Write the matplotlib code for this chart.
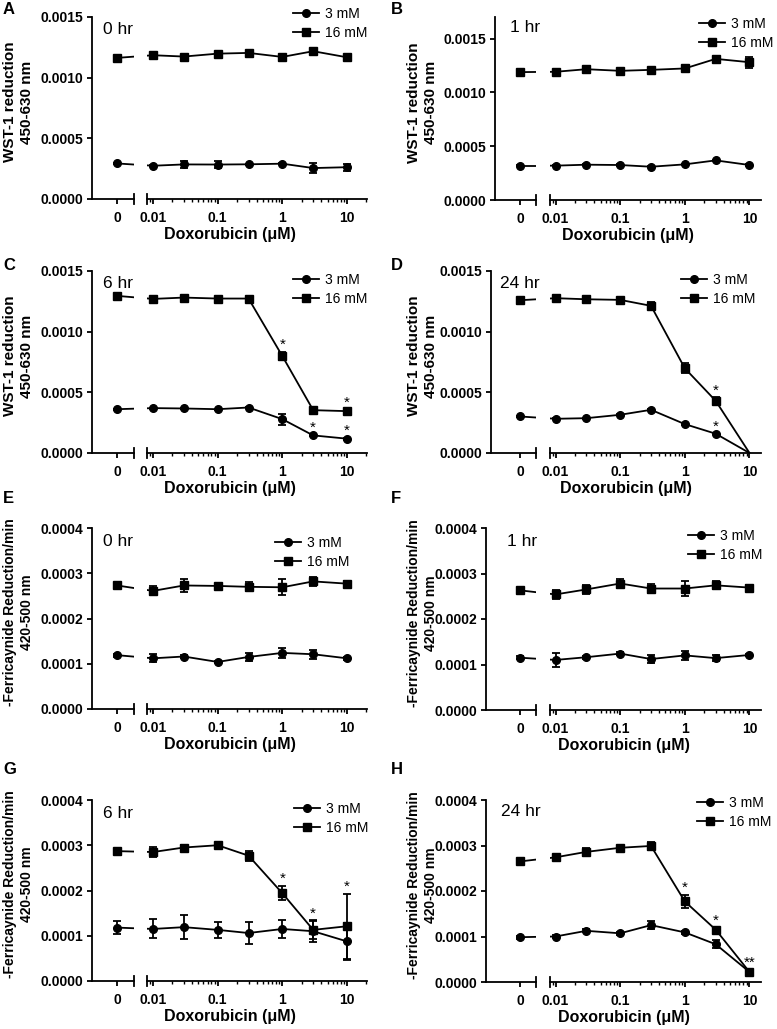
import matplotlib
matplotlib.use("Agg")
import matplotlib.pyplot as plt
from matplotlib.lines import Line2D
from matplotlib.ticker import LogLocator, NullFormatter

plt.rcParams['font.family'] = ['Liberation Sans', 'DejaVu Sans']

# doxorubicin doses (uM), 0 is drawn on its own little axis
doses = [0, 0.01, 0.03, 0.1, 0.3, 1, 3, 10]
dose_ticks = [0.01, 0.1, 1, 10]
dose_labels = ['0.01', '0.1', '1', '10']
legend_labels = ['3 mM', '16 mM']

# A - WST-1, 0 hr
wst_0h_3mM = [0.000293, 0.000274, 0.000285, 0.000284, 0.000286, 0.000291, 0.000255, 0.000262]
wst_0h_3mM_err = [0.000005, 0.000005, 0.00003, 0.00003, 0.000005, 0.000005, 0.00004, 0.00003]
wst_0h_16mM = [0.001163, 0.001185, 0.001174, 0.001198, 0.001204, 0.001171, 0.001218, 0.001168]
wst_0h_16mM_err = [0.00001, 0.00001, 0.00001, 0.00001, 0.00001, 0.00001, 0.00001, 0.00001]

# B - WST-1, 1 hr
wst_1h_3mM = [0.000319, 0.000319, 0.000328, 0.000325, 0.000309, 0.000331, 0.000368, 0.000325]
wst_1h_3mM_err = [0.000005, 0.000005, 0.000005, 0.000005, 0.000005, 0.000005, 0.000005, 0.000005]
wst_1h_16mM = [0.001188, 0.001191, 0.001215, 0.001200, 0.001209, 0.001222, 0.001311, 0.001280]
wst_1h_16mM_err = [0.00001, 0.00001, 0.00001, 0.00001, 0.00001, 0.00001, 0.00001, 0.00005]

# C - WST-1, 6 hr
wst_6h_3mM = [0.000361, 0.000370, 0.000367, 0.000361, 0.000375, 0.000279, 0.000145, 0.000118]
wst_6h_3mM_err = [0.000005, 0.000005, 0.000005, 0.000005, 0.000005, 0.000045, 0.000008, 0.000008]
wst_6h_16mM = [0.001295, 0.001270, 0.001281, 0.001273, 0.001273, 0.000799, 0.000353, 0.000345]
wst_6h_16mM_err = [0.00001, 0.00001, 0.00001, 0.00001, 0.00001, 0.000033, 0.00002, 0.00001]
wst_6h_3mM_stars = {3: '*', 10: '*'}
wst_6h_16mM_stars = {1: '*', 10: '*'}

# D - WST-1, 24 hr
wst_24h_3mM = [0.000301, 0.000282, 0.000287, 0.000315, 0.000356, 0.000238, 0.000159, 0.0]
wst_24h_3mM_err = [0.000005, 0.000005, 0.000005, 0.000005, 0.000005, 0.000005, 0.000005, 0.0]
wst_24h_16mM = [0.001259, 0.001276, 0.001267, 0.001262, 0.001213, 0.000698, 0.000430, 0.0]
wst_24h_16mM_err = [0.00001, 0.00001, 0.00002, 0.00001, 0.00003, 0.00004, 0.00003, 0.0]
wst_24h_3mM_stars = {3: '*'}
wst_24h_16mM_stars = {3: '*'}

# E - ferricyanide, 0 hr
fer_0h_3mM = [0.000119, 0.000112, 0.000116, 0.000104, 0.000115, 0.000124, 0.000121, 0.000112]
fer_0h_3mM_err = [0.000003, 0.000009, 0.000003, 0.000003, 0.000009, 0.000011, 0.00001, 0.000003]
fer_0h_16mM = [0.000273, 0.000261, 0.000273, 0.000272, 0.000270, 0.000269, 0.000282, 0.000277]
fer_0h_16mM_err = [0.000004, 0.00001, 0.000015, 0.000004, 0.00001, 0.000018, 0.00001, 0.000005]

# F - ferricyanide, 1 hr
fer_1h_3mM = [0.000115, 0.000110, 0.000116, 0.000124, 0.000112, 0.000120, 0.000114, 0.000121]
fer_1h_3mM_err = [0.000003, 0.000016, 0.000003, 0.000003, 0.000009, 0.00001, 0.000007, 0.000003]
fer_1h_16mM = [0.000263, 0.000254, 0.000265, 0.000278, 0.000267, 0.000267, 0.000274, 0.000269]
fer_1h_16mM_err = [0.000006, 0.000009, 0.000009, 0.000009, 0.00001, 0.000016, 0.000009, 0.000005]

# G - ferricyanide, 6 hr
fer_6h_3mM = [0.000118, 0.000115, 0.000119, 0.000113, 0.000106, 0.000115, 0.000110, 0.0000875]
fer_6h_3mM_err = [0.000015, 0.000021, 0.000026, 0.000018, 0.000024, 0.00002, 0.000024, 0.00004]
fer_6h_16mM = [0.000287, 0.000285, 0.000295, 0.000300, 0.000277, 0.000194, 0.000113, 0.000121]
fer_6h_16mM_err = [0.000004, 0.000011, 0.000005, 0.000004, 0.000011, 0.000016, 0.00002, 0.000072]
fer_6h_16mM_stars = {1: '*', 3: '*', 10: '*'}

# H - ferricyanide, 24 hr
fer_24h_3mM = [0.0000985, 0.0001, 0.0001125, 0.000107, 0.000125, 0.000109, 0.000083, 0.000022]
fer_24h_3mM_err = [0.000003, 0.000003, 0.000003, 0.000003, 0.000009, 0.000003, 0.000009, 0.000003]
fer_24h_16mM = [0.000265, 0.000274, 0.000286, 0.000295, 0.000299, 0.000177, 0.000115, 0.000022]
fer_24h_16mM_err = [0.000004, 0.000004, 0.000008, 0.000004, 0.000009, 0.000015, 0.000005, 0.000005]
fer_24h_16mM_stars = {1: '*', 3: '*', 10: '**'}

wst_ticks = [0, 0.0005, 0.0010, 0.0015]
fer_ticks = [0, 0.0001, 0.0002, 0.0003, 0.0004]
wst_ylabel = 'WST-1 reduction\n450-630 nm'
fer_ylabel = '-Ferricaynide Reduction/min\n420-500 nm'

W, H = 777, 1029
fig = plt.figure(figsize=(W / 100, H / 100), dpi=100)
LW = 1.3


def fbox(l, t, r, b):
    return [l / W, 1 - b / H, (r - l) / W, (b - t) / H]


def panel(letter, hours, col, l0, top, bot, ylim, yticks, ylabel, ylfs,
          y3, e3, y16, e16, stars3, stars16, leg_xy, hr_xy, letter_y):
    if col == 0:
        brk, logl, logr, zero, p001, p10 = 134, 147, 367, 117, 153, 347
        letter_x, ylab_x = 3, 34
    else:
        brk, logl, logr, zero, p001, p10 = 536, 550, 761, 520, 555.5, 749.5
        letter_x, ylab_x = 391, 438
    ax0 = fig.add_axes(fbox(l0, top, brk, bot))
    ax1 = fig.add_axes(fbox(logl, top, logr, bot))
    ax0.set_xlim(l0 - zero, brk - zero)
    dec = (p10 - p001) / 3.0
    ax1.set_xscale('log')
    ax1.set_xlim(10 ** (-2 - (p001 - logl) / dec), 10 ** (1 + (logr - p10) / dec))
    for ax in (ax0, ax1):
        ax.set_ylim(ylim)
        ax.spines['top'].set_visible(False)
        ax.spines['right'].set_visible(False)
        for s in ax.spines.values():
            s.set_linewidth(LW)
        ax.tick_params(which='major', direction='out', length=3.6, width=LW,
                       labelsize=10, pad=3)
        ax.tick_params(axis='x', which='major', pad=5)
        ax.tick_params(which='minor', direction='out', length=2.2, width=1.0)
        ax.set_facecolor('none')
    ax1.spines['left'].set_visible(False)
    ax1.tick_params(axis='y', which='both', left=False, labelleft=False)
    ax0.set_xticks([0])
    ax0.set_xticklabels(['0'])
    ax1.set_xticks(dose_ticks)
    ax1.set_xticklabels(dose_labels)
    ax1.xaxis.set_minor_locator(LogLocator(base=10, subs=range(2, 10)))
    ax1.xaxis.set_minor_formatter(NullFormatter())
    ax0.set_yticks(yticks)
    ax0.set_yticklabels(['%.4f' % v for v in yticks])
    for lab in ax0.get_xticklabels() + ax0.get_yticklabels() + ax1.get_xticklabels():
        lab.set_fontweight('bold')

    # axis break marks
    ax0.plot([1, 1], [-0.025, 0.025], transform=ax0.transAxes, color='k', lw=LW, clip_on=False)
    ax1.plot([0, 0], [-0.025, 0.025], transform=ax1.transAxes, color='k', lw=LW, clip_on=False)

    for vals, err, mk, ms, stars in [(y3, e3, 'o', 5.5, stars3), (y16, e16, 's', 6, stars16)]:
        # line from the 0 point to the 0.01 point, split over both axes
        p0 = ax0.transData.transform((0, vals[0]))
        p1 = ax1.transData.transform((doses[1], vals[1]))
        xa = ax0.transData.inverted().transform(p1)[0]
        xb = ax1.transData.inverted().transform(p0)[0]
        ax0.plot([0, xa], [vals[0], vals[1]], color='k', lw=LW, zorder=2)
        ax1.plot([xb] + doses[1:], vals, color='k', lw=LW, zorder=2)
        ax0.plot([0], [vals[0]], ls='none', marker=mk, ms=ms, color='k', zorder=4, clip_on=False)
        mx = [d for d, v in zip(doses[1:], vals[1:]) if v > 0]
        my = [v for v in vals[1:] if v > 0]
        ax1.plot(mx, my, ls='none', marker=mk, ms=ms, color='k', zorder=4, clip_on=False)
        if err[0] > 0:
            ax0.errorbar([0], [vals[0]], yerr=[err[0]], fmt='none', ecolor='k',
                         elinewidth=LW, capsize=2.8, capthick=LW, zorder=3)
        ex = [d for d, e in zip(doses[1:], err[1:]) if e > 0]
        ey = [v for v, e in zip(vals[1:], err[1:]) if e > 0]
        ee = [e for e in err[1:] if e > 0]
        ax1.errorbar(ex, ey, yerr=ee, fmt='none', ecolor='k', elinewidth=LW,
                     capsize=2.8, capthick=LW, zorder=3)
        for d, s in stars.items():
            i = doses.index(d)
            ax1.annotate(s, (d, vals[i] + err[i]), xytext=(0, 2), textcoords='offset points',
                         ha='center', va='baseline', fontsize=11)

    handles = [Line2D([], [], color='k', lw=LW, marker='o', ms=5.5),
               Line2D([], [], color='k', lw=LW, marker='s', ms=6)]
    ax1.legend(handles, legend_labels, loc='upper left',
               bbox_to_anchor=(leg_xy[0] / W, 1 - (leg_xy[1] - 9) / H),
               bbox_transform=fig.transFigure, frameon=False, borderpad=0,
               borderaxespad=0, handlelength=1.9, handletextpad=0.4,
               labelspacing=0.35, fontsize=10)

    fig.text(hr_xy[0] / W, 1 - hr_xy[1] / H, hours, fontsize=12.5, ha='left', va='center')
    fig.text(letter_x / W, 1 - letter_y / H, letter, fontsize=12, fontweight='bold',
             ha='left', va='center')

    ax0.set_ylabel(ylabel, fontsize=ylfs, fontweight='bold', linespacing=1.25)
    ax0.yaxis.set_label_coords(ylab_x / W, 1 - ((top + bot) / 2 - 6) / H,
                               transform=fig.transFigure)
    ax1.set_xlabel('Doxorubicin (\u03bcM)', fontsize=11.5, fontweight='bold')
    ax1.xaxis.set_label_coords((l0 + logr) / 2 / W, 1 - (bot + 28) / H,
                               transform=fig.transFigure)


panel('A', '0 hr', 0, 92, 17, 199, (0, 0.0015), wst_ticks, wst_ylabel, 11,
      wst_0h_3mM, wst_0h_3mM_err, wst_0h_16mM, wst_0h_16mM_err, {}, {},
      (293, 16), (103, 30), 10)
panel('B', '1 hr', 1, 495, 17, 200, (0, 0.0017), wst_ticks, wst_ylabel, 11,
      wst_1h_3mM, wst_1h_3mM_err, wst_1h_16mM, wst_1h_16mM_err, {}, {},
      (699, 26), (510, 28), 10)
panel('C', '6 hr', 0, 92, 271, 453, (0, 0.0015), wst_ticks, wst_ylabel, 11,
      wst_6h_3mM, wst_6h_3mM_err, wst_6h_16mM, wst_6h_16mM_err,
      wst_6h_3mM_stars, wst_6h_16mM_stars, (293, 282), (103, 283), 265)
panel('D', '24 hr', 1, 491, 271, 453, (0, 0.0015), wst_ticks, wst_ylabel, 11,
      wst_24h_3mM, wst_24h_3mM_err, wst_24h_16mM, wst_24h_16mM_err,
      wst_24h_3mM_stars, wst_24h_16mM_stars, (681, 282), (500, 283), 265)
panel('E', '0 hr', 0, 92, 528, 709, (0, 0.0004), fer_ticks, fer_ylabel, 10,
      fer_0h_3mM, fer_0h_3mM_err, fer_0h_16mM, fer_0h_16mM_err, {}, {},
      (275, 545), (103, 542), 499)
panel('F', '1 hr', 1, 486, 528, 710, (0, 0.0004), fer_ticks, fer_ylabel, 10,
      fer_1h_3mM, fer_1h_3mM_err, fer_1h_16mM, fer_1h_16mM_err, {}, {},
      (688, 538), (507, 541), 499)
panel('G', '6 hr', 0, 92, 800, 981, (0, 0.0004), fer_ticks, fer_ylabel, 10,
      fer_6h_3mM, fer_6h_3mM_err, fer_6h_16mM, fer_6h_16mM_err,
      {}, fer_6h_16mM_stars, (294, 811), (103, 813), 770)
panel('H', '24 hr', 1, 486, 800, 982, (0, 0.0004), fer_ticks, fer_ylabel, 10,
      fer_24h_3mM, fer_24h_3mM_err, fer_24h_16mM, fer_24h_16mM_err,
      {}, fer_24h_16mM_stars, (697, 805), (501, 812), 770)

fig.savefig('out.png', dpi=100)
